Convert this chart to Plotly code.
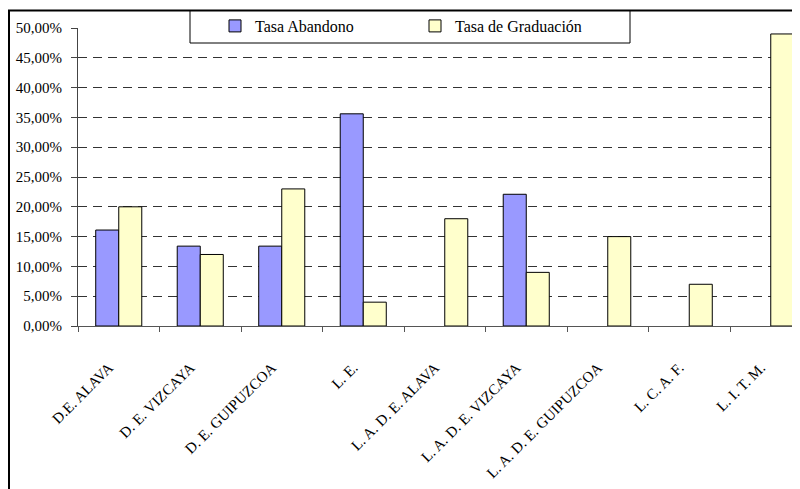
import plotly.graph_objects as go

categories = ["D.E. ALAVA", "D. E. VIZCAYA", "D. E. GUIPUZCOA", "L. E.",
              "L. A. D. E. ALAVA", "L. A. D. E. VIZCAYA", "L. A. D. E. GUIPUZCOA",
              "L. C. A. F.", "L. I. T. M."]
tasa_abandono = [0.161, 0.134, 0.134, 0.356, None, 0.221, None, None, None]
tasa_graduacion = [0.20, 0.12, 0.23, 0.04, 0.18, 0.09, 0.15, 0.07, 0.49]
y_ticks = [i * 0.05 for i in range(11)]

# page is offset by the 8px body margin
OFF = 8
W, H = 800 - OFF, 489 - OFF
L, R, T, B = 70, 0, 20, 163
pw = W - L - R
ph = H - T - B

FONT = "Liberation Serif"

fig = go.Figure()
fig.add_trace(go.Bar(x=categories, y=tasa_abandono, name="Tasa Abandono",
                     marker=dict(color="#9999FF", line=dict(color="#000000", width=1))))
fig.add_trace(go.Bar(x=categories, y=tasa_graduacion, name="Tasa de Graduación",
                     marker=dict(color="#FFFFCC", line=dict(color="#000000", width=1))))

def px_x(page_x):
    return (page_x - OFF - L) / pw

def px_y(page_y):
    return (H - B - (page_y - OFF)) / ph

shapes = [
    dict(type="rect", xref="paper", yref="paper",
         x0=px_x(190), x1=px_x(630), y0=px_y(43), y1=px_y(10.5),
         fillcolor="#FFFFFF", line=dict(color="#000000", width=1), layer="above"),
    dict(type="line", xref="paper", yref="paper",
         x0=px_x(8), x1=px_x(805), y0=px_y(10.5), y1=px_y(10.5),
         line=dict(color="#000000", width=2), layer="above"),
    dict(type="line", xref="paper", yref="paper",
         x0=px_x(9), x1=px_x(9), y0=px_y(10), y1=px_y(495),
         line=dict(color="#000000", width=2), layer="above"),
]

fig.update_layout(
    width=W, height=H,
    margin=dict(l=L, r=R, t=T, b=B, pad=0),
    paper_bgcolor="#FFFFFF", plot_bgcolor="#FFFFFF",
    separators=",.",
    barmode="group", bargap=0.435, bargroupgap=0,
    font=dict(family=FONT, size=13, color="#000000"),
    shapes=shapes,
    showlegend=True,
    legend=dict(orientation="h", x=px_x(215), y=px_y(9), xanchor="left", yanchor="top",
                bgcolor="rgba(0,0,0,0)", borderwidth=0,
                font=dict(family=FONT, size=16, color="#000000"),
                entrywidth=155, entrywidthmode="pixels",
                itemwidth=30),
    xaxis=dict(range=[-0.5, -0.5 + pw / 81.5], showgrid=False,
               showline=True, linecolor="#555555", linewidth=1,
               ticks="outside", tickson="boundaries", ticklen=5, tickcolor="#555555",
               tickangle=-45, ticklabelstandoff=26, ticklabelshift=-10,
               tickfont=dict(family=FONT, size=15, color="#000000")),
    yaxis=dict(range=[0, 0.5], tickvals=y_ticks, tickformat=".2%",
               showline=True, linecolor="#444444", linewidth=1,
               ticks="outside", ticklen=6, tickcolor="#444444",
               ticklabelstandoff=6,
               showgrid=True, gridcolor="#333333", gridwidth=1, griddash="9px,6px",
               tickfont=dict(family=FONT, size=15, color="#000000"),
               zeroline=False),
)

fig.write_html("out.html")
